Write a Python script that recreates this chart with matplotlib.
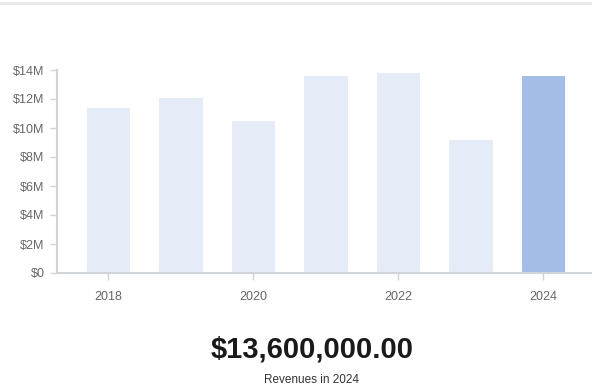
import matplotlib
matplotlib.use("Agg")
import matplotlib.pyplot as plt
from matplotlib.lines import Line2D
from matplotlib.ticker import FuncFormatter

years = [2018, 2019, 2020, 2021, 2022, 2023, 2024]
revenues = [11.4, 12.1, 10.5, 13.6, 13.8, 9.2, 13.6]  # $M
highlight_year = 2024
highlight_value = 13600000.00

plt.rcParams["font.family"] = ["Liberation Sans", "DejaVu Sans"]

fig = plt.figure(figsize=(5.92, 3.91), dpi=100)
ax = fig.add_axes([57 / 592, 118 / 391, 1 - 57 / 592, 203 / 391])

colors = ["#a3bde6" if y == highlight_year else "#e6ecf7" for y in years]
ax.bar(years, revenues, width=0.6, color=colors, zorder=2)

ax.set_xlim(2017.29, 2024.67)
ax.set_ylim(0, 14)
ax.set_yticks(range(0, 15, 2))
ax.yaxis.set_major_formatter(FuncFormatter(lambda v, p: "$0" if v == 0 else f"${v:.0f}M"))
ax.set_xticks([2018, 2020, 2022, 2024])

for side in ["top", "right"]:
    ax.spines[side].set_visible(False)
for side in ["left", "bottom"]:
    ax.spines[side].set_color("#d0d4d9")
    ax.spines[side].set_linewidth(1.5)

ax.tick_params(axis="both", colors="#d0d4d9", labelcolor="#666666", labelsize=9,
               length=5, width=1)
ax.tick_params(axis="x", pad=8)
ax.tick_params(axis="y", pad=4)

# thin rule across the top of the card
fig.add_artist(Line2D([0, 1], [1 - 3 / 391, 1 - 3 / 391], transform=fig.transFigure,
                      color="#e8e8e8", linewidth=2))

fig.text(312 / 592, 1 - 349 / 391, f"${highlight_value:,.2f}", ha="center", va="center",
         fontsize=21, fontweight="bold", color="#1a1a1a")
fig.text(312 / 592, 1 - 380 / 391, f"Revenues in {highlight_year}", ha="center",
         va="center", fontsize=8.5, color="#333333")

fig.savefig("out.png", dpi=100)
